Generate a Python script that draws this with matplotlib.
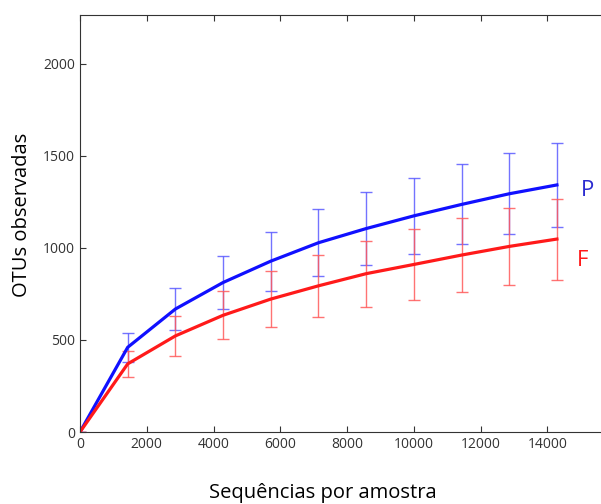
import matplotlib
matplotlib.use("Agg")
import matplotlib.pyplot as plt

plt.rcParams['font.family'] = ['Open Sans', 'DejaVu Sans']

# rarefaction depths
seqs = [0, 1429, 2858, 4287, 5716, 7145, 8574, 10003, 11432, 12861, 14290]

# group P (blue)
p_mean = [0, 460, 668, 812, 928, 1028, 1105, 1174, 1236, 1294, 1342]
p_err = [0, 79, 112, 143, 160, 182, 198, 205, 217, 220, 228]

# group F (red)
f_mean = [0, 370, 522, 634, 722, 794, 860, 910, 961, 1008, 1048]
f_err = [0, 70, 108, 131, 151, 167, 180, 193, 201, 210, 220]

fig = plt.figure(figsize=(6.01, 5.04), dpi=100)
ax = fig.add_axes([80 / 601, 72 / 504, 534 / 601, 417 / 504])

ax.errorbar(seqs, p_mean, yerr=p_err, fmt='none', ecolor='#5a5aff',
            elinewidth=1, capsize=4, capthick=1, alpha=0.85)
ax.errorbar(seqs, f_mean, yerr=f_err, fmt='none', ecolor='#ff5a5a',
            elinewidth=1, capsize=4, capthick=1, alpha=0.85)
ax.plot(seqs, p_mean, color='#1010ff', lw=2.3)
ax.plot(seqs, f_mean, color='#ff1a1a', lw=2.3)

ax.set_xlim(0, 16000)
ax.set_ylim(0, 2265)
ax.set_xticks(range(0, 16000, 2000))
ax.set_yticks(range(0, 2001, 500))
ax.tick_params(direction='in', top=True, right=True, labelsize=10,
               colors='#333333', length=4)
for s in ax.spines.values():
    s.set_color('#333333')

ax.set_xlabel('Sequências por amostra', fontsize=14.5)
ax.xaxis.set_label_coords(0.455, -0.122)
ax.set_ylabel('OTUs observadas', fontsize=14.5)
ax.yaxis.set_label_coords(-0.09, 0.52)

ax.text(15000, 1310, 'P', color='#2b2bd0', fontsize=16, va='center')
ax.text(14900, 930, 'F', color='#ff1a1a', fontsize=16, va='center')

fig.savefig('out.png', dpi=100)
